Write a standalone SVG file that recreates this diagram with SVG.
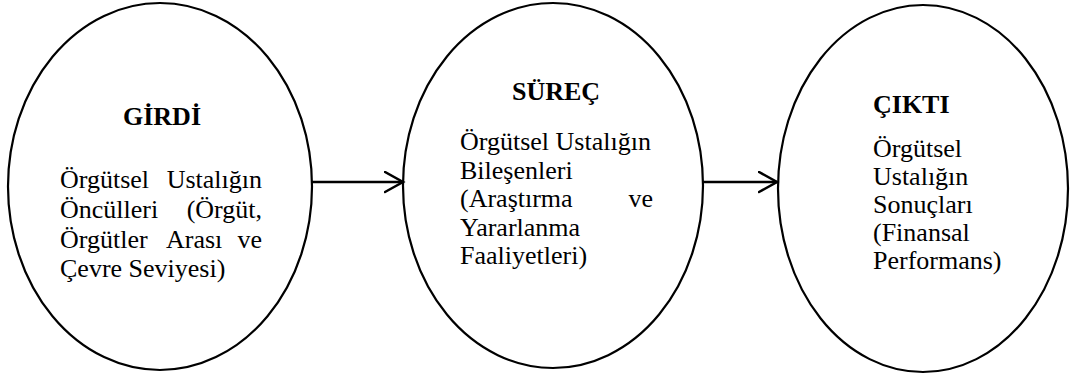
<svg xmlns="http://www.w3.org/2000/svg" width="1070" height="382" viewBox="0 0 1070 382">
  <style>
    .shape { fill: #ffffff; stroke: #000000; stroke-width: 2.2; }
    .title { font-size: 26px; font-weight: bold; fill: #000000; }
    .body { font-size: 26px; fill: #000000; }
    .link { fill: none; stroke: #000000; stroke-width: 2.5; }
  </style>
  <defs>
    <marker id="chevron" markerUnits="userSpaceOnUse" markerWidth="24" markerHeight="26" refX="19" refY="11" orient="auto">
      <path d="M1,1 L19,11 L1,21" fill="none" stroke="#000000" stroke-width="2.5" stroke-linecap="round" stroke-linejoin="miter"/>
    </marker>
  </defs>

  <rect width="1070" height="382" fill="#ffffff"/>

  <g font-family="Liberation Serif, Times New Roman, serif">
  <!-- input stage -->
  <g id="girdi">
    <ellipse class="shape" cx="160" cy="186.5" rx="152" ry="183.5"/>
    <text class="title" x="162" y="125" text-anchor="middle">GİRDİ</text>
    <text class="body" x="60" y="188">Örgütsel</text>
    <text class="body" x="262" y="188" text-anchor="end">Ustalığın</text>
    <text class="body" x="60" y="218">Öncülleri</text>
    <text class="body" x="262" y="218" text-anchor="end">(Örgüt,</text>
    <text class="body" x="60" y="248">Örgütler</text>
    <text class="body" x="166" y="248">Arası</text>
    <text class="body" x="262" y="248" text-anchor="end">ve</text>
    <text class="body" x="60" y="277">Çevre Seviyesi)</text>
  </g>

  <!-- process stage -->
  <g id="surec">
    <ellipse class="shape" cx="553" cy="185.5" rx="150" ry="182.5"/>
    <text class="title" x="556" y="100" text-anchor="middle">SÜREÇ</text>
    <text class="body" x="460" y="150">Örgütsel Ustalığın</text>
    <text class="body" x="460" y="178.5">Bileşenleri</text>
    <text class="body" x="460" y="207">(Araştırma</text>
    <text class="body" x="653" y="207" text-anchor="end">ve</text>
    <text class="body" x="460" y="235.5">Yararlanma</text>
    <text class="body" x="460" y="264">Faaliyetleri)</text>
  </g>

  <!-- output stage -->
  <g id="cikti">
    <ellipse class="shape" cx="923" cy="188.5" rx="145" ry="183.5"/>
    <text class="title" x="873" y="113">ÇIKTI</text>
    <text class="body" x="873" y="157">Örgütsel</text>
    <text class="body" x="873" y="185">Ustalığın</text>
    <text class="body" x="873" y="213">Sonuçları</text>
    <text class="body" x="873" y="241">(Finansal</text>
    <text class="body" x="873" y="269">Performans)</text>
  </g>
  </g>

  <!-- connectors -->
  <g id="connectors">
    <line class="link" x1="312" y1="182" x2="403" y2="182" marker-end="url(#chevron)"/>
    <line class="link" x1="703" y1="182" x2="777" y2="182" marker-end="url(#chevron)"/>
  </g>
</svg>
